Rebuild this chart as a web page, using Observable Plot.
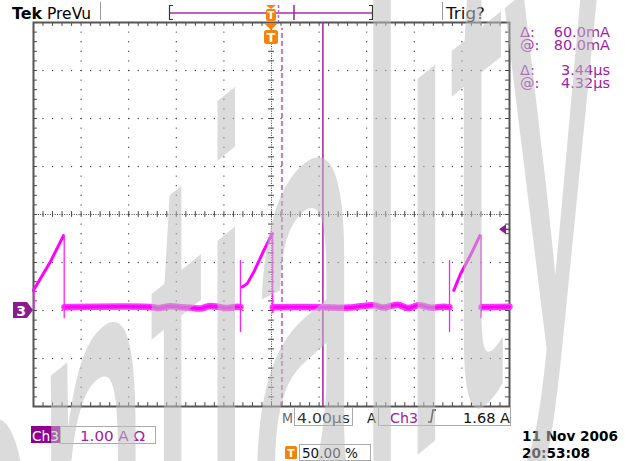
<!DOCTYPE html>
<html><head><meta charset="utf-8">
<script src="https://cdn.jsdelivr.net/npm/d3@7"></script>
<script src="https://cdn.jsdelivr.net/npm/@observablehq/plot@0.6"></script>
<style>html,body{margin:0;padding:0;background:#fff;overflow:hidden} svg{display:block}</style>
</head><body><div id="c"></div>
<script>
// ---- scope settings ----
const timeRange = [-20, 20];      // µs, M 4.00 µs/div, trigger at centre
const currentRange = [-2, 6];     // A, Ch3 1.00 A/div, ground 2 div below centre
const timeMajor = d3.range(-16, 16.01, 4);
const currentMajor = d3.range(-1, 5.01, 1);
const timeMinor = d3.range(0, 51).map(k => -20 + k * 0.8);
const currentMinor = d3.range(0, 41).map(k => -2 + k * 0.2);
const centreTime = 0, centreCurrent = 2;

// ---- Ch3 trace ----
const rampId      = ["A","A","A", "B","B","B","B","B", "C","C","C","C"];
const rampTime    = [-20.0,-18.57,-17.48, -2.46,-2.04,-1.49,-0.65,0.06, 15.32,15.88,16.72,17.51];
const rampCurrent = [0.42,1.02,1.56, 0.49,0.56,0.80,1.25,1.60, 0.42,0.76,1.15,1.56];

const baseId      = ["1","1","1","1","1","1","1","1","1","1","1","1",
                     "2","2","2","2","2","2","2","2","2","2","2",
                     "3","3"];
const baseTime    = [-17.40,-10.0,-9.58,-8.49,-7.65,-6.81,-5.97,-5.29,-4.54,-3.70,-2.86,-2.61,
                     0.11,4.12,6.5,8.57,9.41,10.59,11.51,12.35,13.36,14.45,14.96,
                     17.65,20.0];
const baseCurrent = [0.07,0.07,0.05,0.09,0.07,0.06,0.04,0.09,0.08,0.05,0.08,0.07,
                     0.07,0.07,0.06,0.11,0.06,0.12,0.05,0.11,0.06,0.08,0.07,
                     0.07,0.08];

const edgeTime = [-19.96, -17.42, -2.61, 0.10, 14.96, 17.60];
const edgeLow  = [0.00, -0.17, -0.46, -0.06, -0.46, -0.17];
const edgeHigh = [0.45, 1.56, 1.04, 1.60, 1.04, 1.56];

// ---- cursors / trigger ----
const cursorTime = [0.88, 4.32];
const triggerLevel = 1.68;
const triggerTime = 0;
const groundLevel = 0;

// ---- texts ----
const readoutLabels = ["Δ:", "@:", "Δ:", "@:"];
const readoutValues = ["60.0mA", "80.0mA", "3.44µs", "4.32µs"];
const timebase = "4.00µs";
const triggerSource = "Ch3", triggerReadout = "1.68 A";
const chScale = "1.00 A Ω";
const triggerPos = "50.00 %";
const dateText = ["11 Nov 2006", "20:53:08"];
const watermark = "Confidentiality";

const ramps = rampTime.map((t, i) => ({t, i: rampCurrent[i], id: rampId[i]}));
const base = baseTime.map((t, i) => ({t, i: baseCurrent[i], id: baseId[i]}));
const edges = edgeTime.map((t, k) => ({t, lo: edgeLow[k], hi: edgeHigh[k]}));
const gridDots = [];
for (const t of timeMajor) if (t !== centreTime) for (const c of currentMinor) gridDots.push({t, c});
for (const c of currentMajor) if (c !== centreCurrent) for (const t of timeMinor) gridDots.push({t, c});

const grey = "#444";
const chart = Plot.plot({
  width: 635, height: 461,
  marginLeft: 33, marginRight: 126, marginTop: 22, marginBottom: 55,
  style: {background: "white", overflow: "visible"},
  x: {domain: timeRange, axis: null},
  y: {domain: currentRange, axis: null},
  marks: [
    Plot.dot(gridDots, {x: "t", y: "c", r: 0.7, fill: grey, stroke: null}),
    Plot.ruleX([centreTime], {stroke: grey, strokeDasharray: "1,1.4", strokeWidth: 1}),
    Plot.ruleY([centreCurrent], {stroke: grey, strokeDasharray: "1,1.4", strokeWidth: 1}),
    Plot.ruleX(timeMinor, {x: d => d, y1: centreCurrent - 0.06, y2: centreCurrent + 0.06, stroke: grey}),
    Plot.ruleY(currentMinor, {y: d => d, x1: centreTime - 0.25, x2: centreTime + 0.25, stroke: grey}),
    Plot.ruleX(timeMinor, {x: d => d, y1: currentRange[1], y2: currentRange[1] - 0.08, stroke: grey}),
    Plot.ruleX(timeMinor, {x: d => d, y1: currentRange[0], y2: currentRange[0] + 0.08, stroke: grey}),
    Plot.ruleY(currentMinor, {y: d => d, x1: timeRange[0], x2: timeRange[0] + 0.33, stroke: grey}),
    Plot.ruleY(currentMinor, {y: d => d, x1: timeRange[1], x2: timeRange[1] - 0.33, stroke: grey}),
    Plot.frame({stroke: "#555", strokeWidth: 2}),
    Plot.ruleX([cursorTime[0]], {x: d => d, y1: currentRange[0], y2: 5.88, stroke: "#c050c0", strokeDasharray: "5,3", strokeWidth: 1.5}),
    Plot.ruleX([cursorTime[1]], {x: d => d, stroke: "#a020a0", strokeWidth: 1.5}),
    Plot.line(base, {x: "t", y: "i", z: "id", curve: "catmull-rom", stroke: "#ff38ff", strokeWidth: 6.5}),
    Plot.line(base, {x: "t", y: "i", z: "id", curve: "catmull-rom", stroke: "#ff00ff", strokeWidth: 3}),
    Plot.line(ramps, {x: "t", y: "i", z: "id", stroke: "#ff00ff", strokeWidth: 3}),
    Plot.ruleX(edges, {x: "t", y1: "lo", y2: "hi", stroke: "#ff20ff", strokeWidth: 1.3})
  ]
});
document.getElementById("c").appendChild(chart);

const X = v => chart.scale("x").apply(v);
const Y = v => chart.scale("y").apply(v);
const svg = d3.select(chart);
const font = "'DejaVu Sans', sans-serif";
function txt(g, s, x, y, o = {}) {
  const t = g.append("text").attr("x", x).attr("y", y).text(s)
    .attr("font-family", font).attr("font-size", o.size || 14.5)
    .attr("fill", o.fill || "#111").attr("font-weight", o.weight || "normal")
    .attr("text-anchor", o.anchor || "start");
  if (o.len) t.attr("textLength", o.len).attr("lengthAdjust", "spacingAndGlyphs");
  return t;
}
const g = svg.append("g");

// header
txt(g, "Tek", 12, 19, {size: 16, weight: "bold", fill: "#000", len: 30});
txt(g, "PreVu", 47, 19, {size: 15, fill: "#000", len: 44});
g.append("line").attr("x1", 100.5).attr("x2", 100.5).attr("y1", 2).attr("y2", 20).attr("stroke", "#999");
g.append("line").attr("x1", 442.5).attr("x2", 442.5).attr("y1", 2).attr("y2", 20).attr("stroke", "#999");
txt(g, "Trig?", 446, 19, {size: 15, fill: "#111", len: 39});
// record bar
g.append("line").attr("x1", 170).attr("x2", 372).attr("y1", 13).attr("y2", 13).attr("stroke", "#c060c0").attr("stroke-width", 2);
g.append("path").attr("d", "M173,5.5H169.5V19.5H173M369,5.5H372.5V19.5H369").attr("fill", "none").attr("stroke", "#333").attr("stroke-width", 1.2);
g.append("line").attr("x1", 278.5).attr("x2", 278.5).attr("y1", 5).attr("y2", 22).attr("stroke", "#c060c0").attr("stroke-dasharray", "3,2").attr("stroke-width", 1.5);
g.append("line").attr("x1", 294).attr("x2", 294).attr("y1", 5).attr("y2", 20).attr("stroke", "#a020a0").attr("stroke-width", 1.5);
const orange = "#f5820f";
g.append("path").attr("d", "M266,5H276L271,9Z").attr("fill", orange);
g.append("rect").attr("x", 266).attr("y", 9).attr("width", 10).attr("height", 12).attr("rx", 2).attr("fill", orange);
txt(g, "T", 271, 19, {size: 10, weight: "bold", fill: "#fff", anchor: "middle"});
// trigger position marker
const tx = X(triggerTime);
g.append("path").attr("d", `M${tx - 7},23H${tx + 7}L${tx},30Z`).attr("fill", orange);
g.append("rect").attr("x", tx - 7).attr("y", 30).attr("width", 14).attr("height", 14).attr("rx", 2.5).attr("fill", orange);
txt(g, "T", tx, 42, {size: 13, weight: "bold", fill: "#fff", anchor: "middle"});

// readouts
const purple = "#a020a8";
const rowY = [37, 50, 75, 88];
readoutLabels.forEach((s, k) => {
  txt(g, s, 520, rowY[k], {size: 14.5, fill: purple});
  txt(g, readoutValues[k], 610, rowY[k], {size: 14.5, fill: purple, anchor: "end"});
});

// ground marker and trigger level
const gy = Y(groundLevel);
g.append("path").attr("d", `M13,${gy - 8}H27L33,${gy}L27,${gy + 8}H13Z`).attr("fill", "#8c1a8c");
txt(g, "3", 21, gy + 5.5, {size: 14, weight: "bold", fill: "#fff", anchor: "middle"});
const ty = Y(triggerLevel);
g.append("path").attr("d", `M499,${ty}L506,${ty - 5}V${ty + 5}Z`).attr("fill", "#8c1a8c");
g.append("line").attr("x1", 505).attr("x2", 510).attr("y1", ty).attr("y2", ty).attr("stroke", "#8c1a8c").attr("stroke-width", 1.5);

// bottom status
const box = (x, y, w, h) => g.append("rect").attr("x", x + 0.5).attr("y", y + 0.5).attr("width", w).attr("height", h).attr("fill", "none").attr("stroke", "#aaa");
txt(g, "M", 282, 423, {size: 14.5, fill: "#666", len: 11});
box(294, 407, 58, 18);
txt(g, timebase, 297, 423, {size: 14.5, fill: "#333", len: 53});
txt(g, "A", 367, 423, {size: 14.5, fill: "#111", len: 9});
box(378, 407, 132, 18);
txt(g, triggerSource, 390, 423, {size: 14.5, fill: purple, len: 28});
g.append("path").attr("d", "M428,422H431L433,410H436").attr("fill", "none").attr("stroke", "#222").attr("stroke-width", 1.6);
txt(g, triggerReadout, 510, 423, {size: 14.5, fill: "#111", anchor: "end", len: 47});

g.append("rect").attr("x", 31).attr("y", 426).attr("width", 29).attr("height", 17).attr("fill", "#900090");
txt(g, "Ch3", 32, 441, {size: 14.5, fill: "#fff", len: 27});
box(60, 426, 95, 17);
txt(g, chScale, 80, 441, {size: 14.5, fill: purple, len: 65});

g.append("rect").attr("x", 285).attr("y", 446).attr("width", 12).attr("height", 13).attr("rx", 1.5).attr("fill", orange);
txt(g, "T", 291, 457, {size: 11, weight: "bold", fill: "#fff", anchor: "middle"});
box(299, 444, 71, 16);
txt(g, triggerPos, 302, 458, {size: 14.5, fill: "#111", len: 56});

txt(g, dateText[0], 522, 441, {size: 14.5, fill: "#000", weight: "bold", len: 96});
txt(g, dateText[1], 522, 458, {size: 14.5, fill: "#000", weight: "bold", len: 68});

// watermark (drawn on top, translucent, stretched and sheared)
svg.append("text").text(watermark)
  .attr("transform", "translate(-652,1321) skewY(-39) scale(1,3.56)")
  .attr("text-anchor", "start")
  .attr("font-family", "'Liberation Sans', Arial, sans-serif").attr("font-size", 200)
  .attr("fill", "#bebebe").attr("fill-opacity", 0.55);
</script></body></html>
